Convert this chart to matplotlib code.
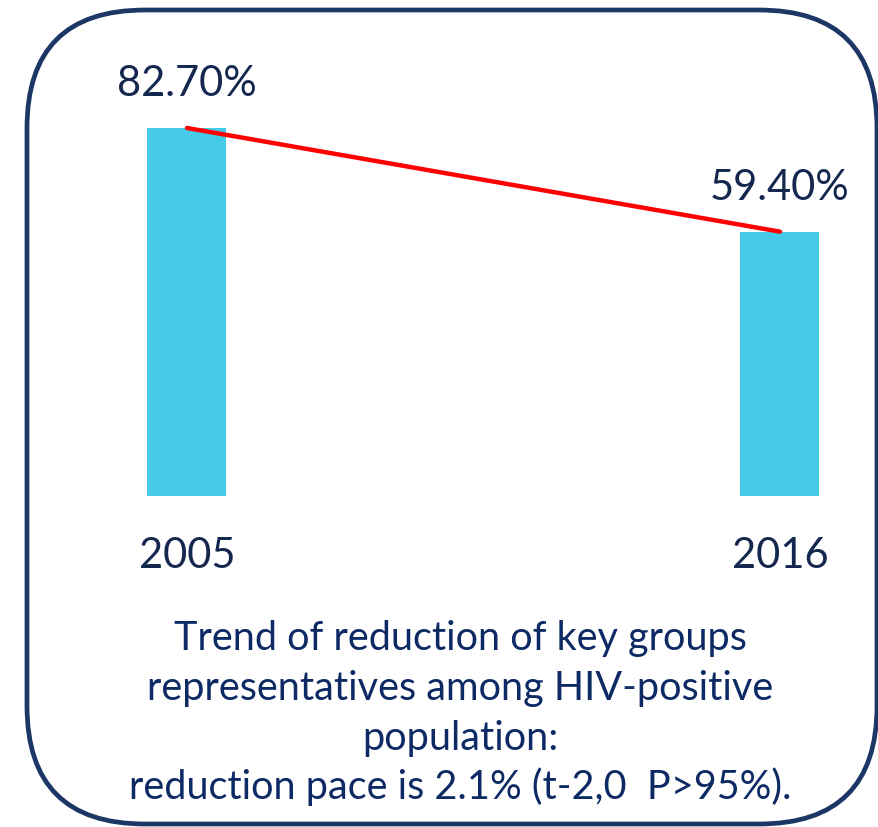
import matplotlib
matplotlib.use("Agg")
import matplotlib.pyplot as plt
from matplotlib.patches import FancyBboxPatch

years = ["2005", "2016"]
values = [82.7, 59.4]
value_labels = ["82.70%", "59.40%"]
caption_lines = [
    "Trend of reduction of key groups",
    "representatives among HIV-positive",
    "population:",
    "reduction pace is 2.1% (t-2,0  P>95%).",
]

W, H = 879, 827
DPI = 100
fig = plt.figure(figsize=(W / DPI, H / DPI), dpi=DPI)
fig.patch.set_facecolor("white")

FONT = ["Lato", "DejaVu Sans"]
NAVY = "#14284f"
CAP = "#0d2a64"

# rounded border (figure pixel coords)
bx0, by_top, bx1, by_bot = 27, 10, 877, 824
rad = 118
box = FancyBboxPatch((bx0 + rad, H - by_bot + rad),
                     (bx1 - bx0) - 2 * rad, (by_bot - by_top) - 2 * rad,
                     boxstyle=f"round,pad={rad}",
                     transform=None, fill=False, edgecolor="#1c3765",
                     linewidth=3.4)
fig.patches.append(box)

# bar axes: zero line at y=496 px, bar centres at x=187 and 780 px
x0px, x1px = 187, 780
ux = x1px - x0px
zero_px = 496
uy = 4.45
ax = fig.add_axes([0, (H - zero_px) / H, 1, zero_px / H])
ax.set_xlim(-x0px / ux, 1 + (W - x1px) / ux)
ax.set_ylim(0, zero_px / uy)
ax.axis("off")
xs = list(range(len(years)))
ax.bar(xs, values, width=79 / ux, color="#45cbe7", zorder=2)
ax.plot(xs, values, color="#ff0000", linewidth=3.2, solid_capstyle="round", zorder=3)
for x, v, lab in zip(xs, values, value_labels):
    ax.annotate(lab, (x, v), xytext=(0, 18), textcoords="offset points",
                ha="center", va="bottom", fontsize=30, color=NAVY, family=FONT)
for x, y in zip(xs, years):
    ax.annotate(y, (x, 0), xytext=(0, -43), textcoords="offset points",
                ha="center", va="center", fontsize=30, color=NAVY, family=FONT)

# caption
baselines = [650, 700, 750, 799]
for line, b in zip(caption_lines, baselines):
    fig.text(460 / W, (H - b) / H, line, ha="center", va="baseline",
             fontsize=28.5, color=CAP, family=FONT)

fig.savefig("out.png", dpi=DPI, facecolor="white")
